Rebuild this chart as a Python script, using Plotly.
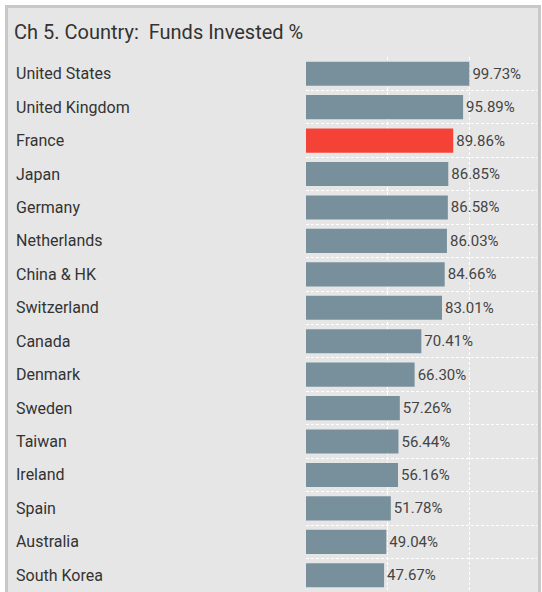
import plotly.graph_objects as go

# data
countries = ["United States", "United Kingdom", "France", "Japan", "Germany",
             "Netherlands", "China & HK", "Switzerland", "Canada", "Denmark",
             "Sweden", "Taiwan", "Ireland", "Spain", "Australia", "South Korea"]
invested_pct = [99.73, 95.89, 89.86, 86.85, 86.58, 86.03, 84.66, 83.01,
                70.41, 66.30, 57.26, 56.44, 56.16, 51.78, 49.04, 47.67]
highlight = "France"

W, H = 542, 592
L, R, T, B = 306, 5, 57, 0
pw, ph = W - L - R, H - T - B

bar_colors = ["#f44336" if c == highlight else "#78909c" for c in countries]
ypos = list(range(len(countries)))

fig = go.Figure()
fig.add_trace(go.Bar(
    x=invested_pct,
    y=ypos,
    orientation="h",
    marker=dict(color=bar_colors, line=dict(width=0)),
    texttemplate="%{x:.2f}%",
    textposition="outside",
    textfont=dict(size=15, color="#444444", family="Roboto"),
    cliponaxis=False,
    hoverinfo="skip",
))

# left-aligned country labels
for i, c in enumerate(countries):
    fig.add_annotation(
        text=c, x=(14 - L) / pw, xref="paper", xanchor="left",
        y=i, yref="y", yanchor="middle", showarrow=False,
        font=dict(size=16, color="#333333", family="Roboto"),
    )

# panel background + border
fig.add_shape(
    type="rect", xref="paper", yref="paper", layer="below",
    x0=(6.5 - L) / pw, x1=(539.5 - L) / pw,
    y0=-0.1, y1=1 + (T - 6.5) / ph,
    fillcolor="#e6e6e6", line=dict(color="#c8c8c8", width=3),
)

fig.update_layout(
    width=W, height=H,
    margin=dict(l=L, r=R, t=T, b=B, pad=0),
    paper_bgcolor="white",
    plot_bgcolor="#e6e6e6",
    showlegend=False,
    bargap=0.28,
    title=dict(
        text="Ch 5. Country:  Funds Invested %",
        xref="container", yref="container",
        x=14 / W, xanchor="left", y=1 - 32 / H, yanchor="middle",
        font=dict(size=20, color="#333333", family="Roboto"),
    ),
    font=dict(family="Roboto"),
)
fig.update_xaxes(
    range=[0, 141], dtick=50, tick0=0,
    showgrid=True, gridcolor="white", griddash="3px,2px", gridwidth=1,
    zeroline=False, showticklabels=False, showline=False, fixedrange=True,
)
fig.update_yaxes(
    range=[len(countries) - 0.5, -0.5],
    tickvals=ypos, showticklabels=False, showgrid=False, zeroline=False,
    minor=dict(tickvals=[i + 0.5 for i in ypos], showgrid=True,
               gridcolor="white", griddash="3px,2px", gridwidth=1),
    fixedrange=True,
)

# drop the browser's default body margin so the figure sits at the page corner
fig.write_html("out.html", config={"displayModeBar": False},
               post_script="document.body.style.margin='0';")
